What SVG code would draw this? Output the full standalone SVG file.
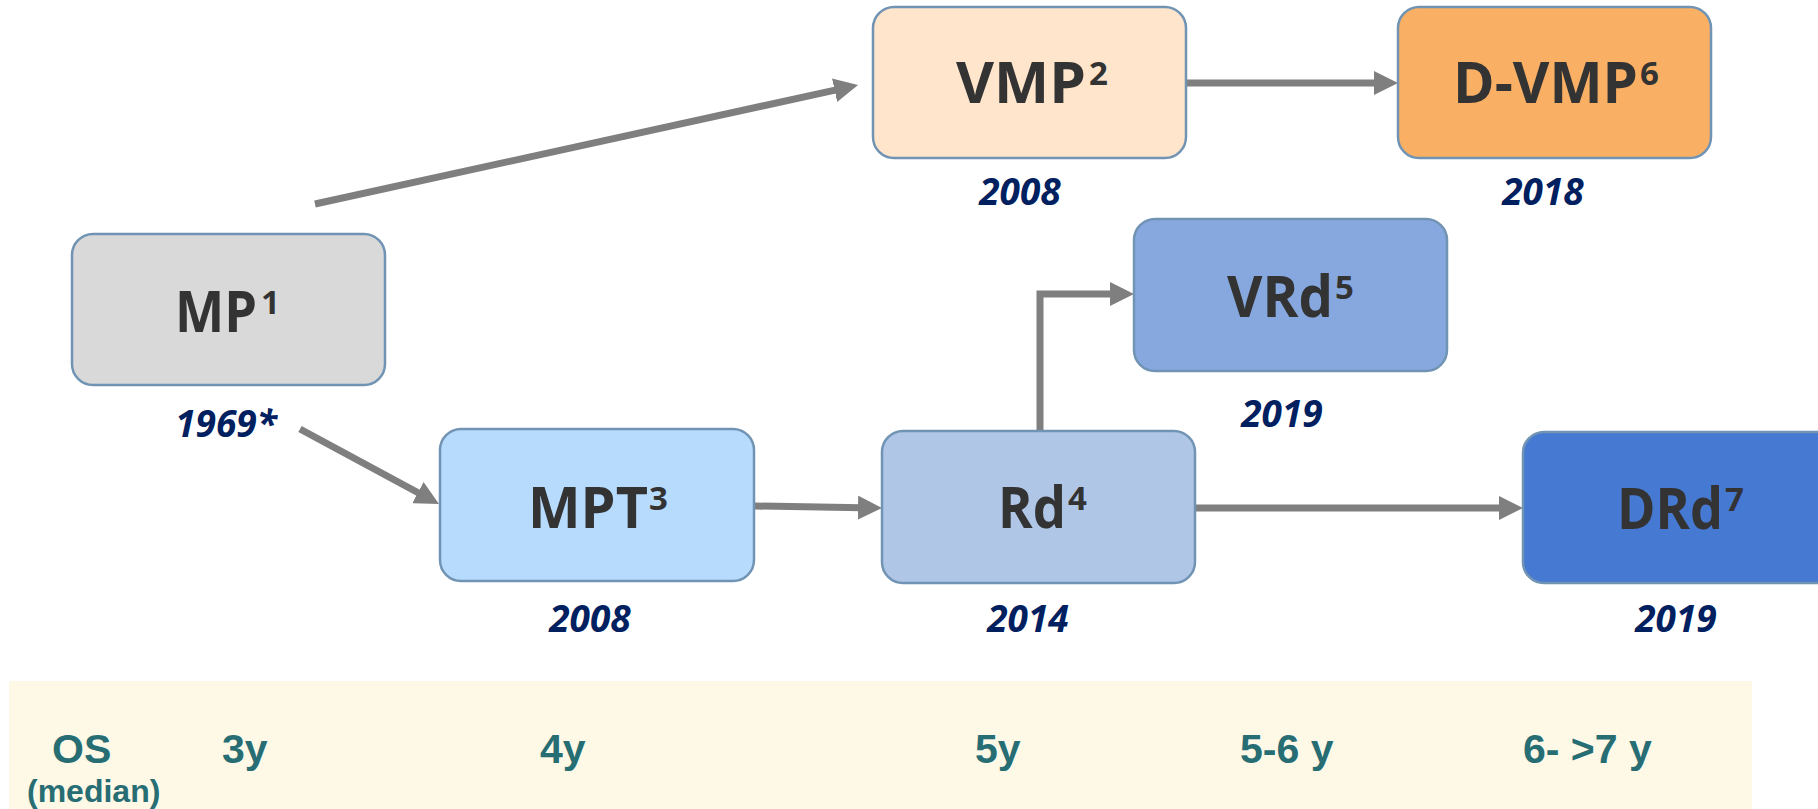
<svg xmlns="http://www.w3.org/2000/svg" width="1818" height="809" viewBox="0 0 1818 809">
  <defs>
    <marker id="ah" markerUnits="userSpaceOnUse" markerWidth="24" markerHeight="24" viewBox="0 0 24 24" refX="4" refY="12" orient="auto">
      <path d="M0,0 L24,12 L0,24 z" fill="#7f7f7f"/>
    </marker>
    <style>
      .box { stroke: #7294b4; stroke-width: 2.5; }
      .lbl { font-family: "Open Sans", "Lato", "Liberation Sans", sans-serif; font-weight: 700; font-size: 58px; fill: #333333; }
      .sup { font-size: 33px; }
      .yr { font-family: "Open Sans", "Liberation Sans", sans-serif; font-weight: 700; font-style: italic; font-size: 37px; fill: #002060; text-anchor: middle; }
      .os { font-family: "Liberation Sans", Arial, sans-serif; font-weight: 700; font-size: 41px; fill: #276d74; }
      .conn { fill: none; stroke: #7f7f7f; stroke-width: 7; marker-end: url(#ah); }
    </style>
  </defs>

  <rect id="os-band" x="9" y="681" width="1743" height="128" fill="#fef8e6"/>

  <g id="connectors">
    <line class="conn" x1="315" y1="204" x2="838.5" y2="89.3"/>
    <line class="conn" x1="1187" y1="83" x2="1378" y2="83"/>
    <line class="conn" x1="300" y1="429" x2="421.4" y2="494.5"/>
    <line class="conn" x1="755" y1="506" x2="862" y2="507.7"/>
    <path class="conn" d="M1040,431 V294 H1114"/>
    <line class="conn" x1="1195" y1="508" x2="1503" y2="508"/>
  </g>

  <g id="node-mp">
    <rect class="box" x="72" y="234" width="313" height="151" rx="21" fill="#d9d9d9"/>
    <text class="lbl" y="332"><tspan x="175" textLength="82" lengthAdjust="spacingAndGlyphs">MP</tspan><tspan class="sup" dx="4" dy="-18">1</tspan></text>
    <text class="yr" x="226" y="437">1969*</text>
  </g>

  <g id="node-vmp">
    <rect class="box" x="873" y="7" width="313" height="151" rx="21" fill="#fee5cc"/>
    <text class="lbl" y="103"><tspan x="956" textLength="130" lengthAdjust="spacingAndGlyphs">VMP</tspan><tspan class="sup" dx="3" dy="-18">2</tspan></text>
    <text class="yr" x="1020" y="205">2008</text>
  </g>

  <g id="node-dvmp">
    <rect class="box" x="1398" y="7" width="313" height="151" rx="21" fill="#fab064"/>
    <text class="lbl" y="103"><tspan x="1453" textLength="185" lengthAdjust="spacingAndGlyphs">D-VMP</tspan><tspan class="sup" dx="2" dy="-18">6</tspan></text>
    <text class="yr" x="1543" y="205">2018</text>
  </g>

  <g id="node-vrd">
    <rect class="box" x="1134" y="219" width="313" height="152" rx="21" fill="#86a8de"/>
    <text class="lbl" y="317"><tspan x="1227" textLength="106" lengthAdjust="spacingAndGlyphs">VRd</tspan><tspan class="sup" dx="2" dy="-18">5</tspan></text>
    <text class="yr" x="1282" y="427">2019</text>
  </g>

  <g id="node-mpt">
    <rect class="box" x="440" y="429" width="314" height="152" rx="21" fill="#b7dbfd"/>
    <text class="lbl" y="528"><tspan x="528" textLength="120" lengthAdjust="spacingAndGlyphs">MPT</tspan><tspan class="sup" dx="1" dy="-18">3</tspan></text>
    <text class="yr" x="590" y="632">2008</text>
  </g>

  <g id="node-rd">
    <rect class="box" x="882" y="431" width="313" height="152" rx="21" fill="#b0c6e6"/>
    <text class="lbl" y="528"><tspan x="998" textLength="68" lengthAdjust="spacingAndGlyphs">Rd</tspan><tspan class="sup" dx="2" dy="-18">4</tspan></text>
    <text class="yr" x="1028" y="632">2014</text>
  </g>

  <g id="node-drd">
    <rect class="box" x="1523" y="432" width="320" height="151" rx="21" fill="#4679d2"/>
    <text class="lbl" y="529"><tspan x="1617" textLength="106" lengthAdjust="spacingAndGlyphs">DRd</tspan><tspan class="sup" dx="2" dy="-18">7</tspan></text>
    <text class="yr" x="1676" y="632">2019</text>
  </g>

  <g id="os-row">
    <text class="os" x="52" y="763">OS</text>
    <text class="os" x="27" y="802" style="font-size:32px">(median)</text>
    <text class="os" x="222" y="763">3y</text>
    <text class="os" x="540" y="763">4y</text>
    <text class="os" x="975" y="763">5y</text>
    <text class="os" x="1240" y="763">5-6 y</text>
    <text class="os" x="1523" y="763">6- &gt;7 y</text>
  </g>
</svg>
